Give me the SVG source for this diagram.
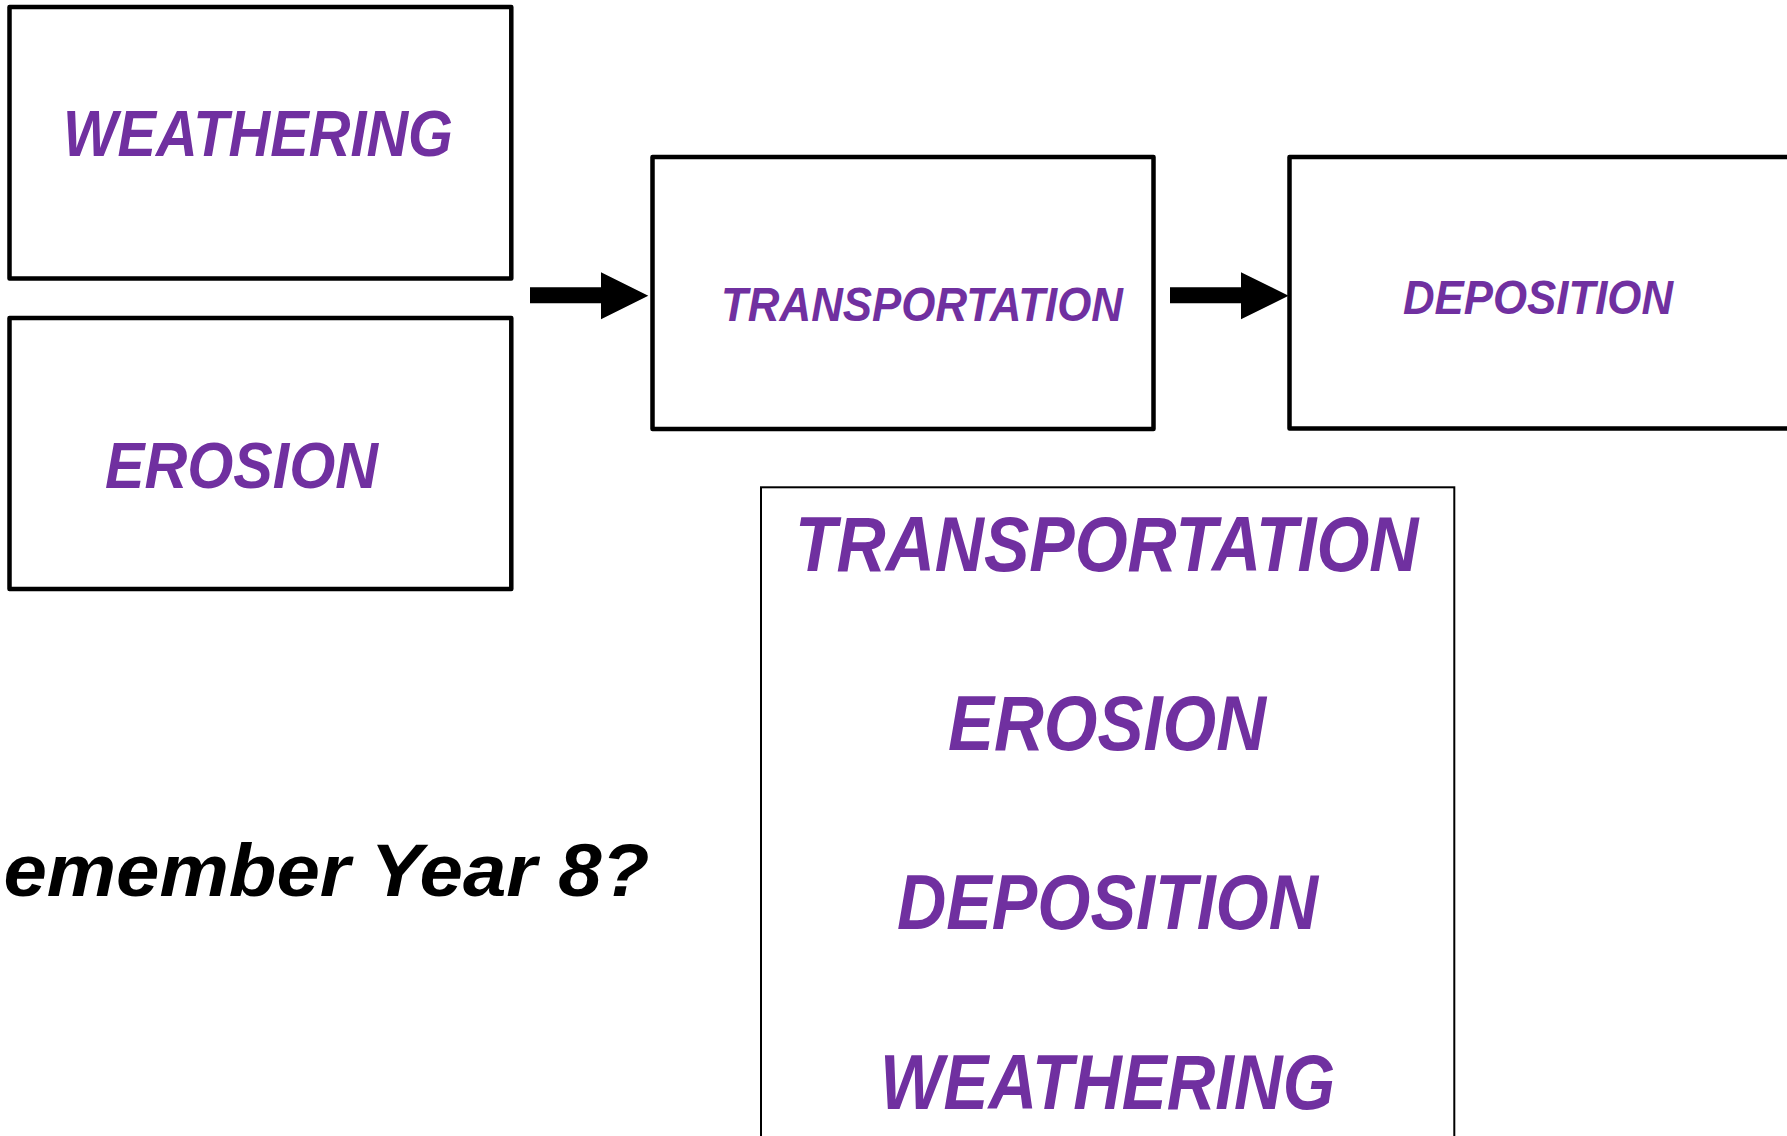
<svg xmlns="http://www.w3.org/2000/svg" width="1787" height="1136" viewBox="0 0 1787 1136">
<style>
.box{fill:#ffffff;stroke:#000000;stroke-width:4.5;stroke-linejoin:round}
.thin{fill:#ffffff;stroke:#000000;stroke-width:2}
.lbl{font-family:"Liberation Sans","DejaVu Sans",sans-serif;font-weight:bold;font-style:italic;fill:#7030A0}
.blk{font-family:"Liberation Sans","DejaVu Sans",sans-serif;font-weight:bold;font-style:italic;fill:#000000}
.arrow{fill:#000000}
</style>
<rect width="1787" height="1136" fill="#ffffff"/>
<g id="weathering">
<rect class="box" x="9.5" y="7" width="501.8" height="271.4"/>
<text class="lbl" x="63" y="156" font-size="64" textLength="390" lengthAdjust="spacingAndGlyphs">WEATHERING</text>
</g>
<g id="erosion">
<rect class="box" x="9.5" y="318" width="501.8" height="271"/>
<text class="lbl" x="105" y="488" font-size="65" textLength="273" lengthAdjust="spacingAndGlyphs">EROSION</text>
</g>
<g id="transportation">
<rect class="box" x="652.5" y="157" width="501" height="272"/>
<text class="lbl" x="721" y="321" font-size="49" textLength="402" lengthAdjust="spacingAndGlyphs">TRANSPORTATION</text>
</g>
<g id="deposition">
<rect class="box" x="1289.5" y="157" width="600" height="271.5"/>
<text class="lbl" x="1403" y="313.7" font-size="49" textLength="270" lengthAdjust="spacingAndGlyphs">DEPOSITION</text>
</g>
<g id="word-list">
<rect class="thin" x="761" y="487.3" width="693.3" height="700"/>
<text class="lbl" x="795" y="570.7" font-size="77" textLength="623.5" lengthAdjust="spacingAndGlyphs">TRANSPORTATION</text>
<text class="lbl" x="948" y="750" font-size="77" textLength="318" lengthAdjust="spacingAndGlyphs">EROSION</text>
<text class="lbl" x="897" y="929.3" font-size="77" textLength="421" lengthAdjust="spacingAndGlyphs">DEPOSITION</text>
<text class="lbl" x="880" y="1109" font-size="77" textLength="455" lengthAdjust="spacingAndGlyphs">WEATHERING</text>
</g>
<g id="caption">
<text class="blk" x="3.4" y="896" font-size="74" textLength="646" lengthAdjust="spacingAndGlyphs">emember Year 8?</text>
</g>
<g id="connectors">
<polygon class="arrow" points="530,287.3 601,287.3 601,272.3 648.3,295.7 601,319.3 601,303.3 530,303.3"/>
<polygon class="arrow" points="1170,287.3 1241,287.3 1241,272.3 1288.6,295.7 1241,319.3 1241,303.3 1170,303.3"/>
</g>
</svg>
